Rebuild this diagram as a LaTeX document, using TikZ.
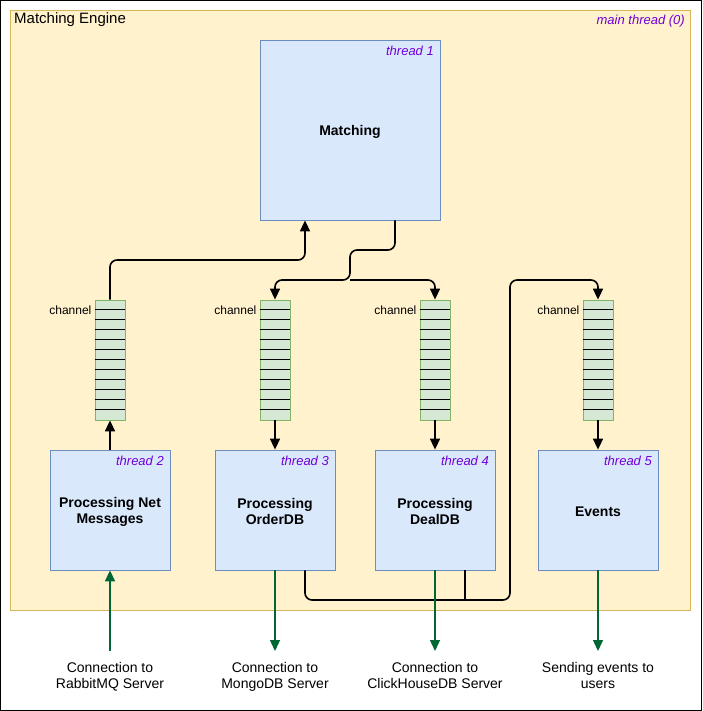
\documentclass[tikz,border=0pt]{standalone}
\usepackage{fontspec}
\setmainfont{Liberation Sans}
\usetikzlibrary{arrows.meta}
\definecolor{contfill}{HTML}{FFF2CC}
\definecolor{contdraw}{HTML}{D6B656}
\definecolor{blfill}{HTML}{DAE8FC}
\definecolor{bldraw}{HTML}{6C8EBF}
\definecolor{grfill}{HTML}{D5E8D4}
\definecolor{grdraw}{HTML}{82B366}
\definecolor{thr}{HTML}{7000D8}
\definecolor{grline}{HTML}{006633}
\tikzset{
  bluebox/.style={draw=bldraw,fill=blfill,line width=0.8pt,minimum width=120pt,minimum height=120pt,inner sep=0pt},
  boxtext/.style={align=center,font=\fontsize{14}{16}\selectfont\bfseries,inner sep=0pt},
  thrlabel/.style={anchor=east,text=thr,font=\fontsize{13}{15}\selectfont\itshape,inner sep=0pt},
  chan/.style={draw=grdraw,fill=grfill,line width=0.8pt,minimum width=30pt,minimum height=120pt,inner sep=0pt},
  chlabel/.style={anchor=east,font=\fontsize{12}{14}\selectfont,inner sep=0pt},
  flow/.style={line width=1.6pt,rounded corners=7pt,-{Triangle[length=11pt,width=10pt]}},
  flowplain/.style={line width=1.6pt,rounded corners=7pt},
  ext/.style={draw=grline,line width=1.4pt,-{Triangle[length=11pt,width=10pt]}},
  extlabel/.style={align=center,anchor=north,font=\fontsize{14}{16}\selectfont,inner sep=0pt}
}
\begin{document}
\begin{tikzpicture}[x=1pt,y=-1pt]
\useasboundingbox (0,0) rectangle (702,711);
\draw[line width=1pt] (0.5,0.5) rectangle (701,710.5);
\node[draw=contdraw,fill=contfill,line width=0.8pt,minimum width=680pt,minimum height=600pt,inner sep=0pt] (engine) at (350,310) {};
\node[anchor=west,font=\fontsize{15}{17}\selectfont,inner sep=0pt] (enginelbl) at (14,20) {Matching Engine};
\node[thrlabel] (mainlbl) at (685,21) {main thread (0)};
% Matching
\node[bluebox,minimum width=180pt,minimum height=180pt] (match) at (350,130) {};
\node[boxtext] (matchtxt) at (350,131.5) {Matching};
\node[thrlabel] (t1) at (434,51) {thread 1};
% thread boxes
\node[bluebox] (net) at (110,510) {};
\node[boxtext] (nettxt) at (110,512) {Processing Net\\Messages};
\node[thrlabel] (t2) at (164,461) {thread 2};
\node[bluebox] (order) at (275,510) {};
\node[boxtext] (ordertxt) at (275,511.5) {Processing\\OrderDB};
\node[thrlabel] (t3) at (329,461) {thread 3};
\node[bluebox] (deal) at (435,510) {};
\node[boxtext] (dealtxt) at (435,511.5) {Processing\\DealDB};
\node[thrlabel] (t4) at (489,461) {thread 4};
\node[bluebox] (events) at (598,510) {};
\node[boxtext] (eventstxt) at (598,511.5) {Events};
\node[thrlabel] (t5) at (652,461) {thread 5};
% channels
\foreach \n/\x in {c1/110,c2/275,c3/435,c4/598}{
  \node[chan] (\n) at (\x,360) {};
  \foreach \k in {1,...,11}{
    \draw[line width=1.5pt] (\n.north west) ++(0,10*\k) -- ++(30,0);
  }
  \node[chlabel] (\n lbl) at ([xshift=-3pt,yshift=-10.5pt]\n.north west) {channel};
}
% flows
\draw[flow] (c1.north) -- (110,260) -- (305,260) -- (match.south -| 305,0);
\draw[flow] (net.north) -- (c1.south);
\draw[flow] (match.south -| 395,0) -- (395,250) -- (350,250) -- (350,280) -- (275,280) -- (c2.north);
\draw[flow] (350,280) -- (435,280) -- (c3.north);
\draw[flow] (c2.south) -- (order.north);
\draw[flow] (c3.south) -- (deal.north);
\draw[flow] (c4.south) -- (events.north);
\draw[flow] (order.south -| 305,0) -- (305,600) -- (510,600) -- (510,280) -- (598,280) -- (c4.north);
\draw[flowplain] (deal.south -| 465,0) -- (465,600);
% external
\coordinate (r1) at (110,651);
\coordinate (r2) at (275,651);
\coordinate (r3) at (435,651);
\coordinate (r4) at (598,651);
\draw[ext] (r1) -- (net.south);
\draw[ext] (order.south) -- (r2);
\draw[ext] (deal.south) -- (r3);
\draw[ext] (events.south) -- (r4);
\node[extlabel] (l1) at (110,662) {Connection to\\RabbitMQ Server};
\node[extlabel] (l2) at (275,662) {Connection to\\MongoDB Server};
\node[extlabel] (l3) at (435,662) {Connection to\\ClickHouseDB Server};
\node[extlabel] (l4) at (598,662) {Sending events to\\users};
\end{tikzpicture}
\end{document}
